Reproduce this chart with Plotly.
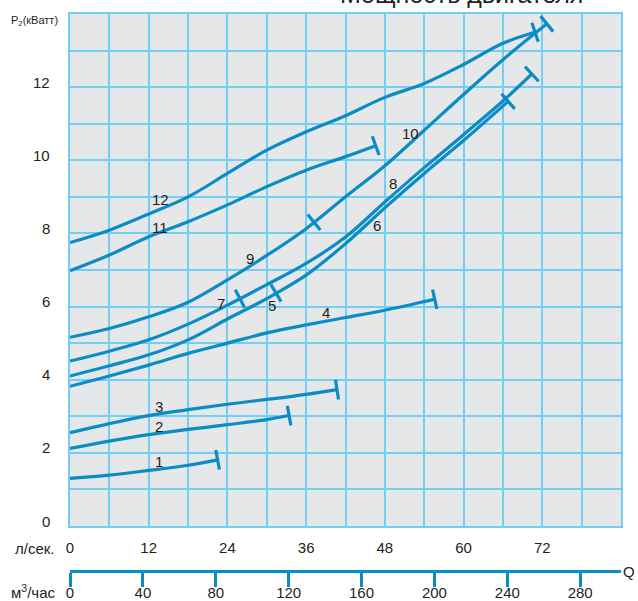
import numpy as np
import plotly.graph_objects as go

# ---------------- data ----------------
# flow Q in l/s, power P2 in kW
q1 = [0, 6, 12, 18, 22.5]
p1 = [1.30, 1.39, 1.52, 1.66, 1.81]

q2 = [0, 6, 12, 18, 24, 30, 33.4]
p2 = [2.12, 2.32, 2.50, 2.64, 2.77, 2.91, 3.02]

q3 = [0, 6, 12, 18, 24, 30, 36, 40.7]
p3 = [2.55, 2.80, 3.02, 3.18, 3.33, 3.46, 3.60, 3.73]

q4 = [0, 6, 12, 18, 24, 30, 36, 42, 48, 55.6]
p4 = [3.82, 4.10, 4.40, 4.72, 5.00, 5.28, 5.50, 5.70, 5.90, 6.20]

# curve 5 continues as curve 6
q56 = [0, 6, 12, 18, 24, 30, 36, 42, 48, 54, 60, 66.8]
p56 = [4.10, 4.38, 4.68, 5.09, 5.66, 6.22, 6.86, 7.72, 8.70, 9.64, 10.54, 11.61]
q5_end = 31.4

# curve 7 continues as curve 8
q78 = [0, 6, 12, 18, 24, 30, 36, 42, 48, 54, 60, 66, 70.4]
p78 = [4.51, 4.78, 5.09, 5.52, 6.04, 6.60, 7.18, 7.90, 8.86, 9.80, 10.70, 11.62, 12.36]
q7_end = 25.9

# curve 9 continues as curve 10
q910 = [0, 6, 12, 18, 24, 30, 36, 42, 48, 54, 60, 66, 72.7]
p910 = [5.16, 5.40, 5.72, 6.12, 6.73, 7.40, 8.13, 9.00, 9.85, 10.82, 11.80, 12.75, 13.73]
q9_end = 37.2

q11 = [0, 6, 12, 18, 24, 30, 36, 42, 46.6]
p11 = [6.98, 7.41, 7.91, 8.32, 8.78, 9.28, 9.73, 10.10, 10.40]

q12 = [0, 6, 12, 18, 24, 30, 36, 42, 48, 54, 60, 66, 70.9]
p12 = [7.75, 8.09, 8.53, 9.00, 9.64, 10.28, 10.78, 11.22, 11.72, 12.10, 12.62, 13.20, 13.50]

ls_ticks = [0, 12, 24, 36, 48, 60, 72]            # л/сек.
ls_minor = [6, 18, 30, 42, 54, 66, 78]
m3_ticks = [0, 40, 80, 120, 160, 200, 240, 280]    # м³/час
p_ticks = [0, 2, 4, 6, 8, 10, 12]                  # kW
curve_names = ["1", "2", "3", "4", "5", "6", "7", "8", "9", "10", "11", "12"]

# ---------------- layout constants ----------------
W, H = 638, 601
ML, MR, MT, MB = 70, 17, 14, 30
X_MAX, Y_MAX = 84, 14
PLOT_W = W - ML - MR
PAPER_H = H - MT - MB
Y_DOM0 = 45 / PAPER_H
PLOT_H = PAPER_H * (1 - Y_DOM0)
SX = PLOT_W / X_MAX   # px per l/s
SY = PLOT_H / Y_MAX   # px per kW

BLUE = "#0a8cc6"
GRID = "#72cff3"
BG = "#e6e7e8"
TXT = "#231f20"
FONT = "Liberation Sans, Arial, sans-serif"

fig = go.Figure()

lines = [(q1, p1), (q2, p2), (q3, p3), (q4, p4), (q56, p56), (q78, p78),
         (q910, p910), (q11, p11), (q12, p12)]
for q, p in lines:
    fig.add_trace(go.Scatter(x=q, y=p, mode="lines",
                             line=dict(color=BLUE, width=3.2, shape="spline", smoothing=1.0),
                             hoverinfo="skip", showlegend=False))

# perpendicular end / split ticks
tick_specs = [(q1, p1, q1[-1]), (q2, p2, q2[-1]), (q3, p3, q3[-1]), (q4, p4, q4[-1]),
              (q56, p56, q5_end), (q56, p56, q56[-1]), (q78, p78, q7_end), (q78, p78, q78[-1]),
              (q910, p910, q9_end), (q910, p910, q910[-1]), (q11, p11, q11[-1]), (q12, p12, q12[-1])]
HALF = 10  # px
for q, p, qt in tick_specs:
    pt = np.interp(qt, q, p)
    if qt >= q[-1] - 1e-9:
        a, b = qt - 2.0, qt
    else:
        a, b = qt - 1.0, qt + 1.0
    dx = (b - a) * SX
    dy = (np.interp(b, q, p) - np.interp(a, q, p)) * SY
    n = np.hypot(dx, dy)
    nx, ny = -dy / n, dx / n
    xs = [qt - nx * HALF / SX, qt + nx * HALF / SX]
    ys = [pt - ny * HALF / SY, pt + ny * HALF / SY]
    fig.add_trace(go.Scatter(x=xs, y=ys, mode="lines",
                             line=dict(color=BLUE, width=3.2),
                             hoverinfo="skip", showlegend=False))

# invisible trace so the m³/час axis is drawn
fig.add_trace(go.Scatter(x=m3_ticks, y=[0] * len(m3_ticks), xaxis="x2", mode="markers",
                         marker=dict(opacity=0), hoverinfo="skip", showlegend=False))

# curve number labels (pixel-measured anchor points -> data units)
label_px = {"1": (159, 461.7), "2": (159, 426.7), "3": (159, 406), "4": (326, 312.7),
            "5": (272.3, 305.7), "6": (376.7, 225.7), "7": (221, 303.3), "8": (393.3, 183.3),
            "9": (250, 258.3), "10": (410.7, 133.3), "11": (160, 227.3), "12": (160, 199)}
PLOT_BOTTOM = MT + PLOT_H
annotations = []
for name in curve_names:
    px, py = label_px[name]
    annotations.append(dict(x=(px - ML) / SX, y=(PLOT_BOTTOM - py) / SY, xref="x", yref="y",
                            text=name, showarrow=False, font=dict(size=15, color=TXT, family=FONT)))

# y tick labels (sit slightly above their grid lines)
for v in p_ticks:
    annotations.append(dict(x=0, y=v, xref="paper", yref="y", text=str(v), showarrow=False,
                            xanchor="right", yshift=5, xshift=-18,
                            font=dict(size=15, color=TXT, family=FONT)))

def py2paper(py):
    return (H - MB - py) / PAPER_H

annotations += [
    dict(x=(57 - ML) / PLOT_W, y=py2paper(548), xref="paper", yref="paper", text="л/сек.",
         showarrow=False, xanchor="right", yanchor="middle", font=dict(size=15, color=TXT, family=FONT)),
    dict(x=(57 - ML) / PLOT_W, y=py2paper(592), xref="paper", yref="paper", text="м<sup>3</sup>/час",
         showarrow=False, xanchor="right", yanchor="middle", font=dict(size=15, color=TXT, family=FONT)),
    dict(x=(629 - ML) / PLOT_W, y=py2paper(571), xref="paper", yref="paper", text="Q",
         showarrow=False, xanchor="center", yanchor="middle", font=dict(size=15, color=TXT, family=FONT)),
    dict(x=(9 - ML) / PLOT_W, y=py2paper(21), xref="paper", yref="paper", text="P<sub>2</sub>(кВатт)",
         showarrow=False, xanchor="left", yanchor="middle", font=dict(size=11, color=TXT, family=FONT)),
    dict(x=(461 - ML) / PLOT_W, y=py2paper(10), xref="paper", yref="paper", text="Мощность двигателя",
         showarrow=False, xanchor="center", yanchor="bottom", font=dict(size=25, color=TXT, family=FONT)),
]

fig.update_layout(
    width=W, height=H,
    margin=dict(l=ML, r=MR, t=MT, b=MB, autoexpand=False),
    paper_bgcolor="white", plot_bgcolor=BG,
    font=dict(family=FONT, color=TXT),
    annotations=annotations,
    xaxis=dict(range=[0, X_MAX], tickmode="array", tickvals=ls_ticks,
               showgrid=True, gridcolor=GRID, gridwidth=1.6, zeroline=False,
               minor=dict(tickmode="array", tickvals=ls_minor, showgrid=True,
                          gridcolor=GRID, gridwidth=1.6, ticks=""),
               showline=True, linecolor=GRID, linewidth=1.6, mirror=True,
               ticks="outside", ticklen=7, tickcolor="rgba(0,0,0,0)",
               tickfont=dict(size=15, color=TXT, family=FONT), fixedrange=True),
    xaxis2=dict(overlaying="x", anchor="free", position=0, side="bottom",
                range=[0, X_MAX * 3.6], tickmode="array", tickvals=m3_ticks,
                showgrid=False, zeroline=False, showline=True, linecolor=BLUE, linewidth=3,
                ticks="outside", ticklen=14, tickwidth=3, tickcolor=BLUE,
                ticklabelstandoff=-7,
                tickfont=dict(size=15, color=TXT, family=FONT), fixedrange=True),
    yaxis=dict(range=[0, Y_MAX], domain=[Y_DOM0, 1], tickmode="array", tickvals=list(range(0, Y_MAX)),
               showticklabels=False, showgrid=True, gridcolor=GRID, gridwidth=1.6, zeroline=False,
               showline=True, linecolor=GRID, linewidth=1.6, mirror=True, ticks="", fixedrange=True),
)

fig.write_html("out.html", config={"displayModeBar": False},
               post_script="document.body.style.margin='0';document.body.style.overflow='hidden';")
